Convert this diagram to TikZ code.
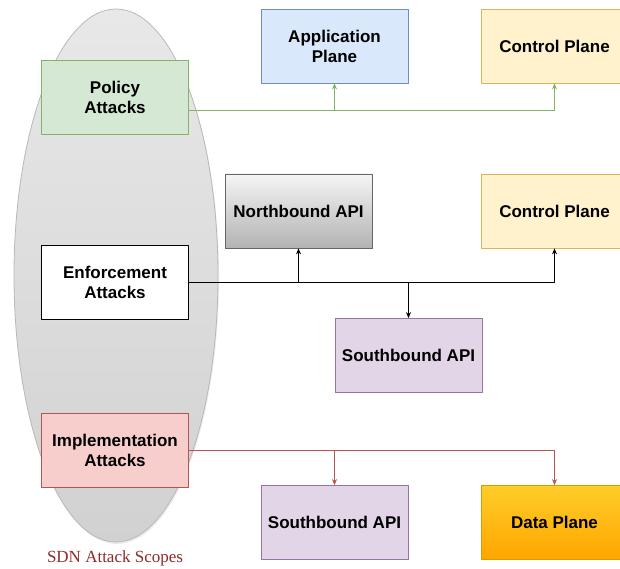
\documentclass[tikz,border=0pt]{standalone}
\usepackage{fontspec}
\setmainfont{Liberation Sans}
\newfontfamily\capfont{Liberation Serif}
\usepackage{tikz}
\usetikzlibrary{arrows.meta}
\usetikzlibrary{positioning}
\usetikzlibrary{shadows}
\definecolor{greenfill}{HTML}{D5E8D4}
\definecolor{greenline}{HTML}{82B366}
\definecolor{bluefill}{HTML}{DAE8FC}
\definecolor{blueline}{HTML}{6C8EBF}
\definecolor{yellowfill}{HTML}{FFF2CC}
\definecolor{yellowline}{HTML}{D6B656}
\definecolor{purplefill}{HTML}{E1D5E7}
\definecolor{purpleline}{HTML}{9673A6}
\definecolor{redfill}{HTML}{F8CECC}
\definecolor{redline}{HTML}{B85450}
\definecolor{datatop}{HTML}{FFCD28}
\definecolor{databottom}{HTML}{FFA500}
\definecolor{orangeline}{HTML}{D79B00}
\definecolor{scopered}{HTML}{8E2A2A}
\tikzset{
  box/.style={draw,line width=0.8pt,minimum width=147pt,minimum height=74pt,
    align=center,font=\fontsize{17}{20}\selectfont\bfseries,inner sep=2pt},
  link/.style={line width=0.8pt,-{Stealth[length=6pt,width=5pt]}}
}
\begin{document}
\begin{tikzpicture}[line cap=round,line join=round,x=1pt,y=-1pt]
\useasboundingbox (0,0) rectangle (620,569);
\begin{scope}
\clip (0,0) rectangle (620,569);
% scope ellipse
\draw[color=black!28,line width=0.8pt,top color=black!9,bottom color=black!18,
  drop shadow={opacity=0.15,shadow xshift=1pt,shadow yshift=-2pt}]
  (116,275.5) ellipse (102 and 266.5);
% attack boxes
\node[box,fill=greenfill,draw=greenline] (policy) at (115,97) {Policy\\Attacks};
\node[box,fill=white,draw=black] (enforce) at (115,282) {Enforcement\\Attacks};
\node[box,fill=redfill,draw=redline] (implem) at (115,450) {Implementation\\Attacks};
% targets
\node[box,fill=bluefill,draw=blueline] (app) at (334.5,46) {Application\\Plane};
\node[box,fill=yellowfill,draw=yellowline] (ctrltop) at (554.5,46) {Control Plane};
\node[box,top color=black!4,bottom color=black!30,draw=black!60] (north) at (298.5,211) {Northbound API};
\node[box,fill=yellowfill,draw=yellowline] (ctrlmid) at (554.5,211) {Control Plane};
\node[box,fill=purplefill,draw=purpleline] (southmid) at (408.5,355.5) {Southbound API};
\node[box,fill=purplefill,draw=purpleline] (southlow) at (334.5,522.5) {Southbound API};
\node[box,top color=datatop,bottom color=databottom,draw=orangeline] (data) at (554.5,522.5) {Data Plane};
% caption
\node[text=scopered,font=\capfont\fontsize{17}{20}\selectfont] (scope) at (115,558) {SDN Attack Scopes};
% policy links
\coordinate (pout) at ([yshift=-13pt]policy.east);
\draw[link,greenline] (pout) -| (app.south);
\draw[link,greenline] (pout) -| (ctrltop.south);
% enforcement links
\draw[link] (enforce.east) -| (north.south);
\draw[link] (enforce.east) -| (ctrlmid.south);
\draw[link] (enforce.east) -| (southmid.north);
% implementation links
\draw[link,redline] (implem.east) -| (southlow.north);
\draw[link,redline] (implem.east) -| (data.north);
\end{scope}
\end{tikzpicture}
\end{document}
